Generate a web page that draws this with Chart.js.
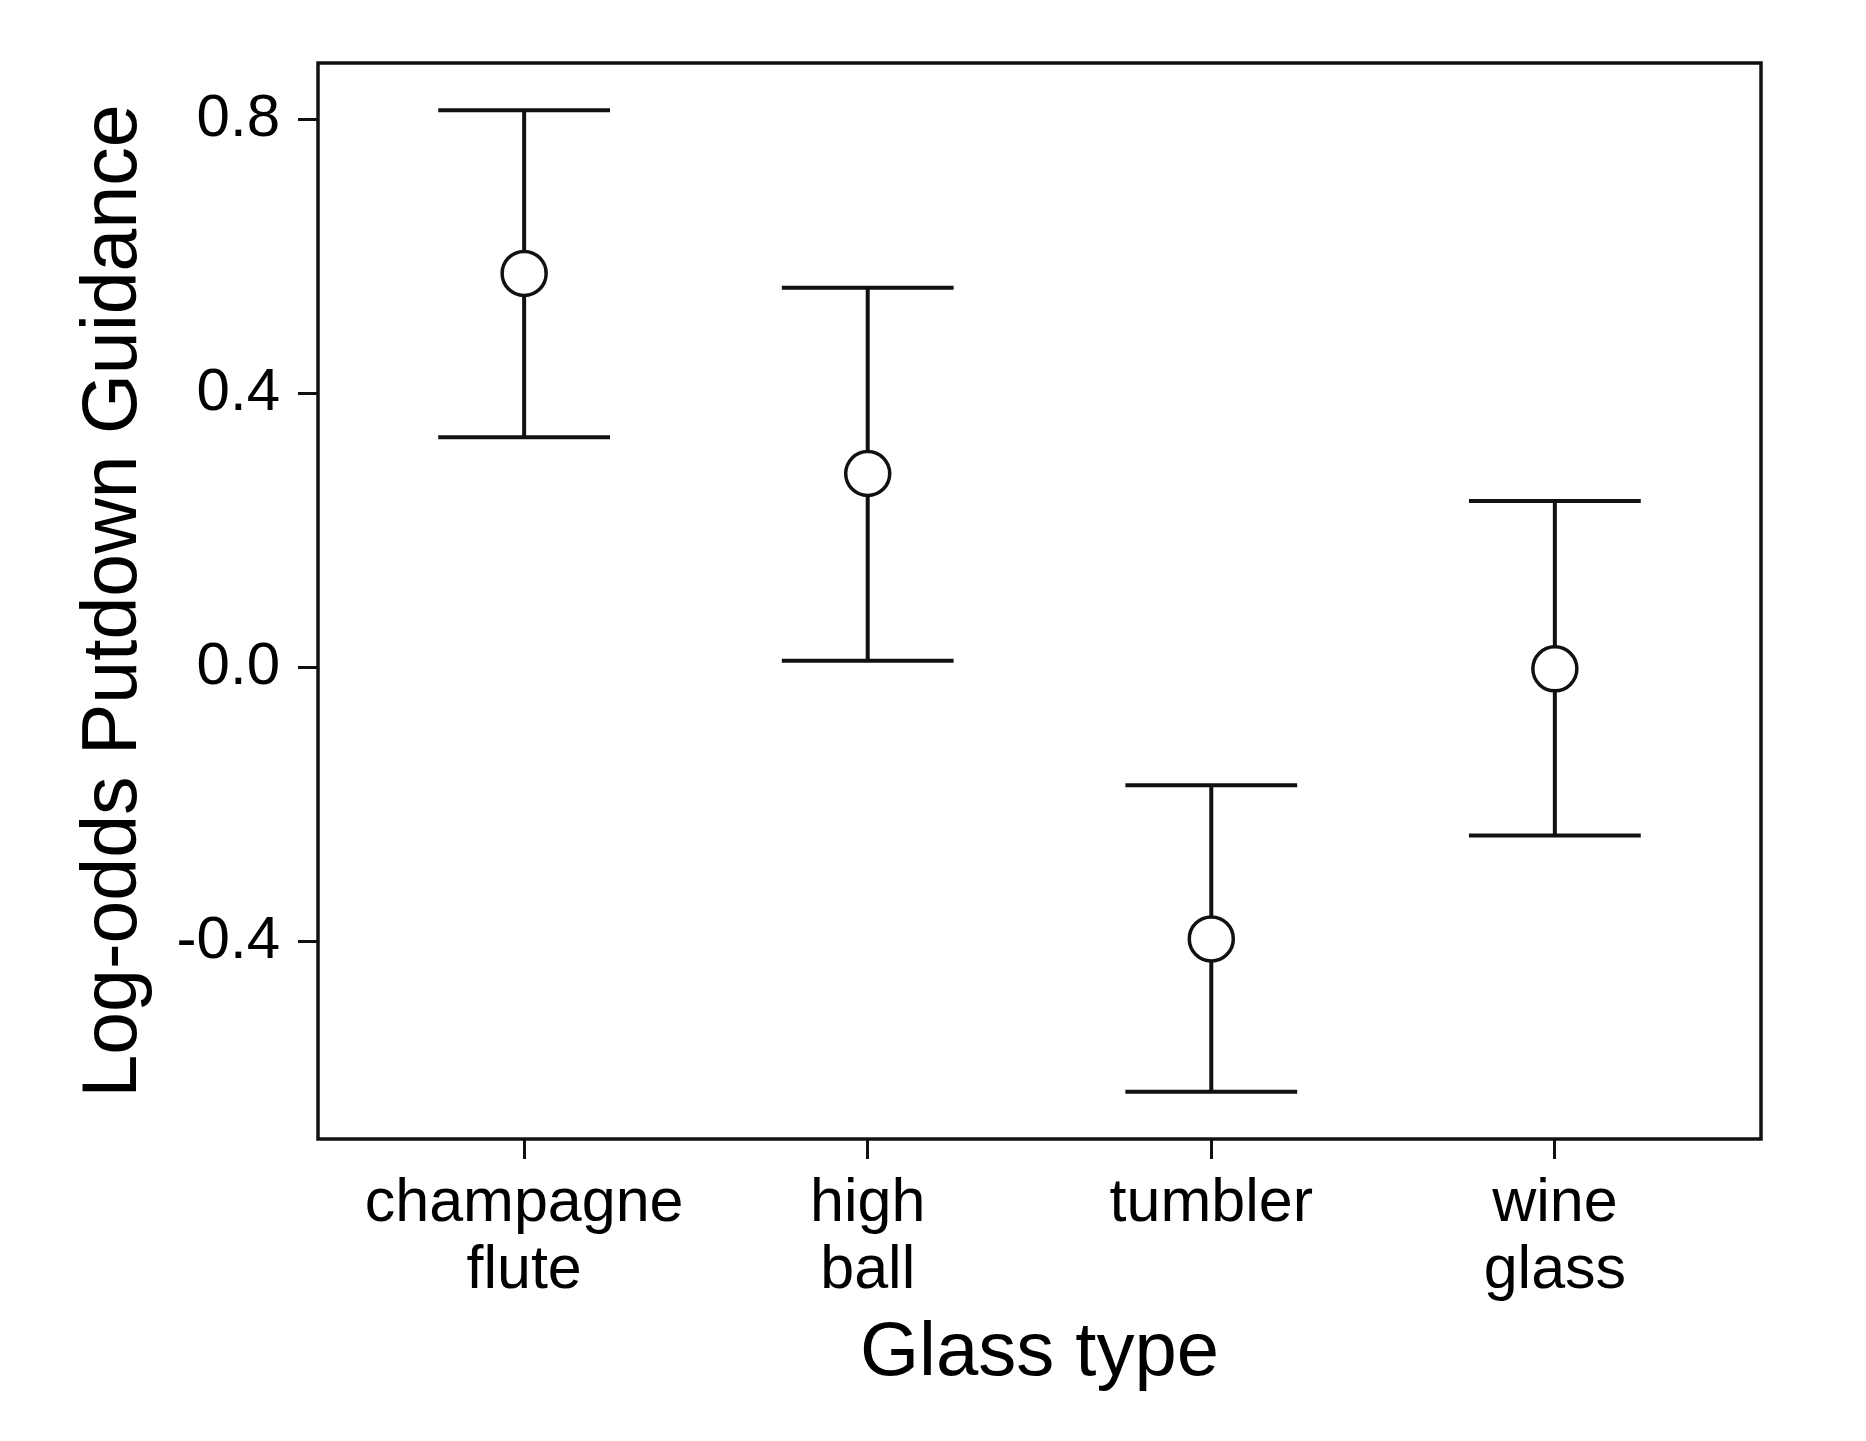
<!DOCTYPE html>
<html>
<head>
<meta charset="utf-8">
<script src="https://cdn.jsdelivr.net/npm/chart.js@4.4.0/dist/chart.umd.min.js"></script>
<style>
  html, body { margin: 0; padding: 0; background: #fff; }
  canvas { display: block; }
</style>
</head>
<body>
<canvas id="glass_chart" width="1866" height="1441"></canvas>
<script>
// values
const glassTypes = [['champagne', 'flute'], ['high', 'ball'], 'tumbler', ['wine', 'glass']];
const means = [0.575, 0.283, -0.396, -0.002];
const upperCI = [0.813, 0.554, -0.172, 0.243];
const lowerCI = [0.336, 0.010, -0.619, -0.245];
const xTicks = [0, 1, 2, 3];
const yTicks = [-0.4, 0.0, 0.4, 0.8];

const ink = '#000';
const fontFamily = "'Liberation Sans', Arial, sans-serif";

// whiskers with caps, drawn under the circles
const errorBars = {
    id: 'errorBars',
    beforeDatasetsDraw(chart) {
        const ctx = chart.ctx;
        const xs = chart.scales.x;
        const ys = chart.scales.y;
        ctx.save();
        ctx.strokeStyle = '#111';
        ctx.lineWidth = 4;
        ctx.lineCap = 'butt';
        means.forEach((m, i) => {
            const x = xs.getPixelForValue(i);
            const x0 = xs.getPixelForValue(i - 0.25);
            const x1 = xs.getPixelForValue(i + 0.25);
            const yTop = ys.getPixelForValue(upperCI[i]);
            const yBot = ys.getPixelForValue(lowerCI[i]);
            ctx.beginPath();
            ctx.moveTo(x, yTop);
            ctx.lineTo(x, yBot);
            ctx.moveTo(x0, yTop);
            ctx.lineTo(x1, yTop);
            ctx.moveTo(x0, yBot);
            ctx.lineTo(x1, yBot);
            ctx.stroke();
        });
        ctx.restore();
    }
};

// box round the plot area
const frame = {
    id: 'frame',
    afterDraw(chart) {
        const {ctx, chartArea: a} = chart;
        ctx.save();
        ctx.strokeStyle = '#111';
        ctx.lineWidth = 3.5;
        ctx.strokeRect(a.left, a.top, a.right - a.left, a.bottom - a.top);
        ctx.restore();
    }
};

const chart = new Chart(document.getElementById('glass_chart').getContext('2d'), {
    type: 'scatter',
    data: {
        datasets: [{
            data: means.map((m, i) => ({x: i, y: m})),
            pointRadius: 22,
            pointHoverRadius: 22,
            pointBackgroundColor: '#fff',
            pointBorderColor: '#111',
            pointBorderWidth: 3.5
        }]
    },
    options: {
        responsive: false,
        animation: false,
        events: [],
        layout: { padding: { top: 63, right: 105, bottom: 0, left: 0 } },
        plugins: { legend: { display: false }, tooltip: { enabled: false } },
        scales: {
            x: {
                type: 'linear',
                min: -0.6,
                max: 3.6,
                afterBuildTicks: (s) => { s.ticks = xTicks.map(v => ({value: v})); },
                afterFit: (s) => { s.height = 302; },
                border: { display: false },
                grid: { drawOnChartArea: false, drawTicks: true, tickLength: 20, tickWidth: 3, tickColor: '#111' },
                ticks: {
                    autoSkip: false,
                    maxRotation: 0,
                    padding: 12,
                    color: ink,
                    font: { family: fontFamily, size: 61, lineHeight: 1.1 },
                    callback: (v) => glassTypes[v]
                },
                title: {
                    display: true,
                    text: 'Glass type',
                    color: ink,
                    font: { family: fontFamily, size: 76 },
                    padding: { top: 0, bottom: 41 }
                }
            },
            y: {
                min: -0.688,
                max: 0.882,
                afterBuildTicks: (s) => { s.ticks = yTicks.map(v => ({value: v})); },
                afterFit: (s) => { s.width = 318; },
                border: { display: false },
                grid: { drawOnChartArea: false, drawTicks: true, tickLength: 20, tickWidth: 3, tickColor: '#111' },
                ticks: {
                    padding: 18,
                    color: ink,
                    font: { family: fontFamily, size: 60 },
                    callback: (v) => v.toFixed(1)
                },
                title: {
                    display: true,
                    text: 'Log-odds Putdown Guidance',
                    color: ink,
                    font: { family: fontFamily, size: 77 },
                    padding: { top: 69, bottom: 0 }
                }
            }
        }
    },
    plugins: [errorBars, frame]
});
</script>
</body>
</html>
